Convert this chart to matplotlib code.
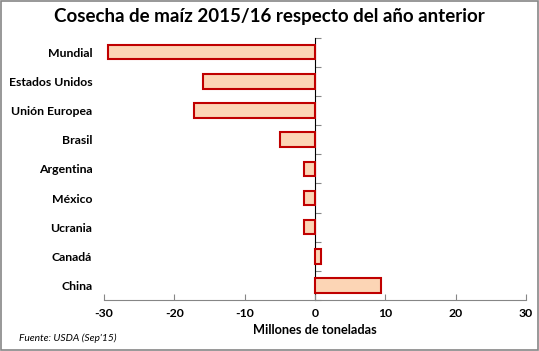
# Cosecha de maiz 2015/16 vs año anterior
import matplotlib.pyplot as plt
import numpy as np

paises = ['Mundial', 'Estados Unidos', 'Unión Europea', 'Brasil', 'Argentina',
          'México', 'Ucrania', 'Canadá', 'China']
variacion = [-29.4, -16.0, -17.2, -5.0, -1.6, -1.5, -1.5, 0.8, 9.4]
xticks = [-30, -20, -10, 0, 10, 20, 30]

plt.rcParams['font.family'] = ['Lato', 'DejaVu Sans']

fig = plt.figure(figsize=(5.39, 3.51), dpi=100)
ax = fig.add_axes([0.193, 0.145, 0.783, 0.748])

ind = np.arange(len(paises))
ax.barh(ind, variacion, height=0.5, color='#fcd5b5', edgecolor='#c00000', linewidth=1.5)

ax.set_xlim(-30, 30)
ax.set_ylim(len(paises) - 0.5, -0.5)
ax.set_xticks(xticks)
ax.set_xticklabels([str(x) for x in xticks], fontsize=8.8, fontweight='bold')
ax.set_yticks(ind)
ax.set_yticklabels(paises, fontsize=8.8, fontweight='bold')
ax.tick_params(axis='y', length=0, pad=8.5)
ax.tick_params(axis='x', direction='in', length=4, color='#868686', pad=6)

for s in ['top', 'right', 'left']:
    ax.spines[s].set_visible(False)
ax.spines['bottom'].set_color('#868686')

# eje vertical en cero con marcas entre categorias
sec = ax.secondary_yaxis(0.5)
sec.set_yticks(np.arange(len(paises) + 1) - 0.5)
sec.set_yticklabels([])
sec.tick_params(length=4, color='#868686')
sec.spines['left'].set_color('#868686')

ax.set_xlabel('Millones de toneladas', fontsize=9.2, fontweight='bold', labelpad=3)
fig.text(0.5, 0.952, 'Cosecha de maíz 2015/16 respecto del año anterior',
         ha='center', va='center', fontsize=13.5, fontweight='bold')
fig.text(0.035, 0.035, "Fuente: USDA (Sep'15)", fontsize=7.4, style='italic', ha='left', va='center')

fig.patches.append(plt.Rectangle((0.002, 0.003), 0.996, 0.994, transform=fig.transFigure,
                                 fill=False, edgecolor='#868686', linewidth=1.2))

plt.savefig('out.png', dpi=100)
